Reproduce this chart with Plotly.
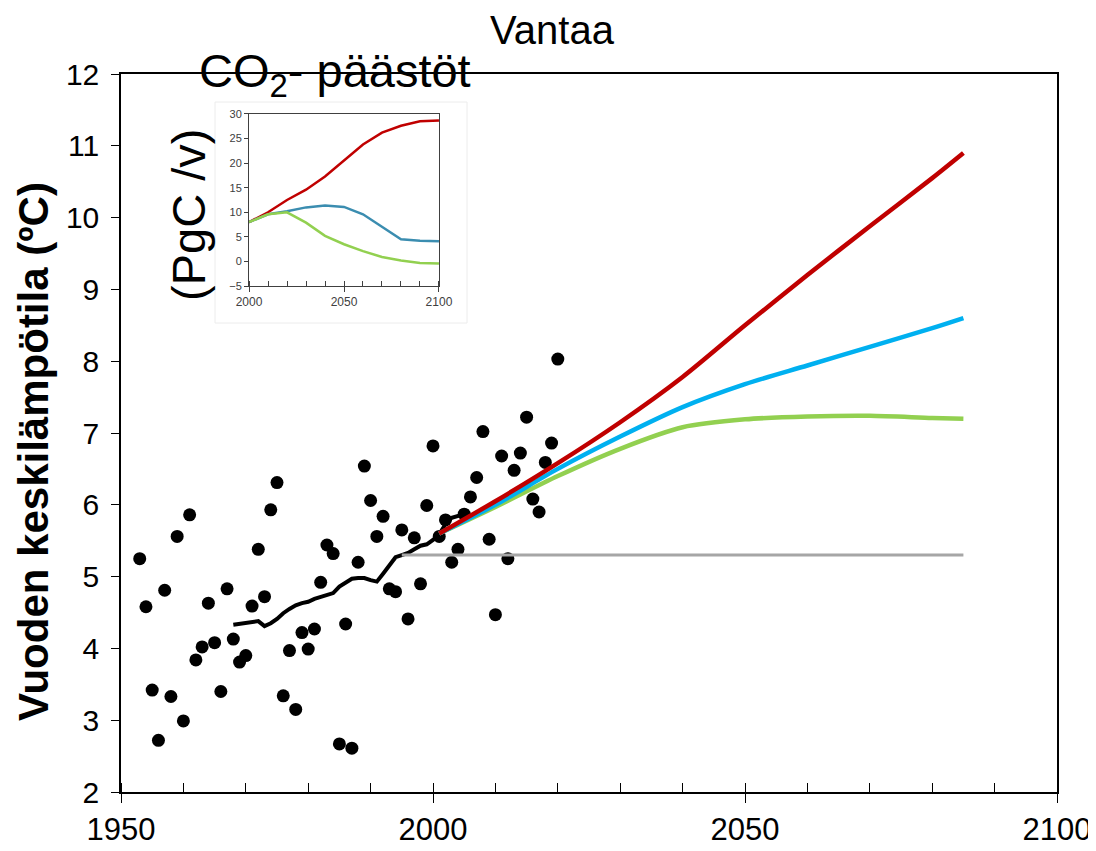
import plotly.graph_objects as go

# ---- observed annual mean temperatures (dots) ----
obs_years = list(range(1953, 2021))
obs_temp = [5.25, 4.58, 3.42, 2.72, 4.81, 3.33, 5.56, 2.99, 5.86, 3.84,
            4.02, 4.63, 4.08, 3.40, 4.83, 4.13, 3.81, 3.90, 4.59, 5.38,
            4.72, 5.93, 6.31, 3.34, 3.97, 3.15, 4.22, 3.99, 4.27, 4.92,
            5.44, 5.32, 2.67, 4.34, 2.61, 5.20, 6.54, 6.06, 5.56, 5.84,
            4.83, 4.79, 5.65, 4.41, 5.54, 4.90, 5.99, 6.82, 5.56, 5.79,
            5.20, 5.38, 5.87, 6.11, 6.38, 7.02, 5.52, 4.47, 6.68, 5.25,
            6.48, 6.72, 7.22, 6.08, 5.90, 6.59, 6.86, 8.03]

# ---- running mean (black line) ----
rm_years = list(range(1968, 2006))
rm_temp = [4.33, 4.34, 4.35, 4.36, 4.38, 4.31, 4.35, 4.41, 4.49, 4.55,
           4.60, 4.63, 4.65, 4.69, 4.72, 4.74, 4.77, 4.86, 4.91, 4.97,
           4.98, 4.98, 4.95, 4.93, 5.04, 5.16, 5.27, 5.30, 5.33, 5.38,
           5.43, 5.45, 5.51, 5.59, 5.73, 5.82, 5.84, 5.87]

# ---- projections ----
proj_years = [2001, 2010, 2020, 2030, 2040, 2050, 2060, 2070, 2080, 2085]
proj_red = [5.60, 6.05, 6.58, 7.15, 7.78, 8.50, 9.20, 9.88, 10.55, 10.90]
proj_blue = [5.60, 6.00, 6.50, 6.95, 7.36, 7.68, 7.94, 8.20, 8.46, 8.60]
proj_green = [5.60, 5.97, 6.40, 6.78, 7.08, 7.19, 7.23, 7.24, 7.21, 7.20]
const_years = [1995, 2085]
const_temp = [5.30, 5.30]

# ---- inset: CO2 emissions (PgC/v) ----
co2_years = [2000, 2010, 2020, 2030, 2040, 2050, 2060, 2070, 2080, 2090, 2100]
co2_red = [8.0, 10.0, 12.5, 14.6, 17.3, 20.5, 23.8, 26.2, 27.6, 28.5, 28.7]
co2_blue = [8.0, 9.6, 10.2, 11.0, 11.4, 11.1, 9.6, 7.0, 4.5, 4.2, 4.1]
co2_green = [8.0, 9.6, 10.0, 7.9, 5.2, 3.5, 2.1, 0.9, 0.2, -0.3, -0.4]

FONT = "Liberation Sans, Arial, sans-serif"
RED = "#c00000"
BLUE = "#00b0f0"
GREEN = "#92d050"
GRAY = "#a6a6a6"
TEAL = "#3b8db0"

# page body has an 8px default margin; size the figure to fit the window
W, H = 1088, 843
OFF = 8

fig = go.Figure()

fig.add_trace(go.Scatter(x=obs_years, y=obs_temp, mode="markers",
                         marker=dict(color="black", size=13),
                         showlegend=False))
fig.add_trace(go.Scatter(x=rm_years, y=rm_temp, mode="lines",
                         line=dict(color="black", width=4),
                         showlegend=False))
fig.add_trace(go.Scatter(x=const_years, y=const_temp, mode="lines",
                         line=dict(color=GRAY, width=3), showlegend=False))
for vals, col in [(proj_green, GREEN), (proj_blue, BLUE), (proj_red, RED)]:
    fig.add_trace(go.Scatter(x=proj_years, y=vals, mode="lines",
                             line=dict(color=col, width=4.5, shape="spline",
                                       smoothing=0.8),
                             showlegend=False))

# inset traces
for vals, col in [(co2_red, RED), (co2_blue, TEAL), (co2_green, GREEN)]:
    fig.add_trace(go.Scatter(x=co2_years, y=vals, mode="lines",
                             line=dict(color=col, width=2.5),
                             xaxis="x2", yaxis="y2", showlegend=False))

fig.update_layout(
    width=W, height=H,
    margin=dict(l=121 - OFF, r=W - (1057 - OFF), t=74 - OFF,
                b=H - (792 - OFF)),
    paper_bgcolor="white", plot_bgcolor="white",
    font=dict(family=FONT, color="black"),
    title=dict(text="Vantaa", x=0.5, xref="container",
               y=1 - (30 - OFF) / H,
               yref="container", xanchor="center", yanchor="middle",
               font=dict(size=40, family=FONT, color="black")),
    xaxis=dict(range=[1950, 2100], tickvals=[1950, 2000, 2050, 2100],
               automargin=False,
               ticks="outside", ticklen=9, tickwidth=1.2, tickcolor="black",
               minor=dict(dtick=10, ticks="inside", ticklen=9,
                          tickwidth=1, tickcolor="black"),
               showgrid=False, zeroline=False,
               showline=True, linecolor="black", linewidth=1.5, mirror=True,
               tickfont=dict(size=31, family=FONT, color="black")),
    yaxis=dict(range=[2, 12], dtick=1, ticks="outside", ticklen=8,
               automargin=False, ticksuffix="\u2009",
               tickwidth=1.2, tickcolor="black",
               showgrid=False, zeroline=False,
               showline=True, linecolor="black", linewidth=1.5, mirror=True,
               tickfont=dict(size=30, family=FONT, color="black")),
    xaxis2=dict(domain=[0.1368, 0.3397], anchor="y2", automargin=False,
                range=[2000, 2100], tickvals=[2000, 2050, 2100],
                ticks="outside", ticklen=5, tickcolor="#404040",
                minor=dict(dtick=10, ticks="inside", ticklen=5,
                           tickcolor="#404040"),
                showgrid=False, zeroline=False,
                showline=True, linecolor="#404040", linewidth=1, mirror=True,
                tickfont=dict(size=12, family=FONT, color="#404040")),
    yaxis2=dict(domain=[0.7047, 0.9443], anchor="x2", automargin=False,
                range=[-5, 30], dtick=5, ticks="outside", ticklen=4,
                tickcolor="#404040",
                showgrid=False, zeroline=False,
                showline=True, linecolor="#404040", linewidth=1, mirror=True,
                tickfont=dict(size=11, family=FONT, color="#404040")),
)

# faint frame around the inset
fig.add_shape(type="rect", xref="paper", yref="paper",
              x0=(215 - 121) / 936, x1=(467 - 121) / 936,
              y0=(792 - 323) / 718, y1=(792 - 102) / 718,
              line=dict(color="#ececec", width=1), fillcolor="rgba(0,0,0,0)",
              layer="below")

annotations = [
    dict(text="Vuoden keskilämpötila (ºC)", textangle=-90,
         x=(33 - 121) / 936, y=(792 - 452) / 718, xref="paper", yref="paper",
         xanchor="center", yanchor="middle", showarrow=False,
         font=dict(size=42, family=FONT, color="black", weight="bold")),
    dict(text="(PgC /v)", textangle=-90,
         x=(188 - 121) / 936, y=(792 - 215) / 718, xref="paper", yref="paper",
         xanchor="center", yanchor="middle", showarrow=False,
         font=dict(size=47, family=FONT, color="black")),
    dict(text="CO<sub>2</sub>- päästöt",
         x=(335 - 121) / 936, y=(792 - 74) / 718, xref="paper", yref="paper",
         xanchor="center", yanchor="middle", showarrow=False,
         font=dict(size=47, family=FONT, color="black")),
]
fig.update_layout(annotations=annotations)

fig.write_html("out.html")
